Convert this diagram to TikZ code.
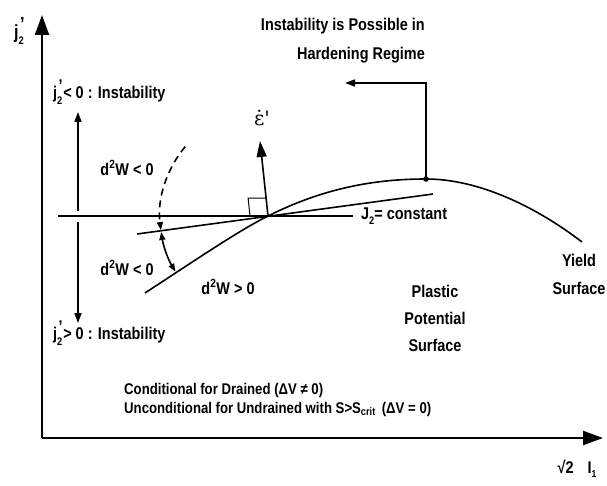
\documentclass[tikz,border=0pt]{standalone}
\usepackage{fontspec}
\setmainfont{Liberation Sans}[FakeStretch=0.85,BoldFont={Liberation Sans Bold}]
\newfontfamily\epsfont{DejaVu Serif}
\usetikzlibrary{arrows.meta}
\newcommand{\jtw}{j\makebox[0pt][l]{\raisebox{0.85ex}{\kern0.08em'}}\raisebox{-0.6ex}{\fontsize{11}{11}\selectfont 2}}
\begin{document}
\begin{tikzpicture}[x=1pt,y=-1pt,
  lbl/.style={inner sep=0pt, font=\fontsize{17}{20}\selectfont\bfseries},
  axis/.style={line width=2.2pt},
  ln/.style={line width=1.6pt},
  bigtip/.style={-{Triangle[length=20pt,width=14pt]}},
  smalltip/.style={-{Triangle[length=10pt,width=7pt]}},
]
\useasboundingbox (0,0) rectangle (607,486);
% coordinates
\coordinate (O) at (42,438);
\coordinate (Ytop) at (42,15);
\coordinate (Xend) at (603,438);
\coordinate (P) at (268,216);
\coordinate (Hl) at (58,216);
\coordinate (Hr) at (353,216);
\coordinate (Tl) at (137,234);
\coordinate (Tr) at (433,194);
\coordinate (Ys) at (145,293);
\coordinate (Peak) at (426,179);
\coordinate (Ye) at (582,242);
\coordinate (Corner) at (426,83);
\coordinate (Aend) at (345,83);
\coordinate (Etip) at (260,141);
\coordinate (Vu0) at (78,211);
\coordinate (Vu1) at (78,112);
\coordinate (Vd0) at (78,222);
\coordinate (Vd1) at (78,323);
% axes
\draw[axis,bigtip] (O) -- (Ytop);
\draw[axis,bigtip] (O) -- (Xend);
% lines
\draw[ln] (Hl) -- (Hr);
\draw[ln] (Tl) -- (Tr);
\draw[ln] (Ys) .. controls (200,257) and (240,230) .. (P)
  .. controls (320,190) and (370,179) .. (Peak)
  .. controls (478,179) and (535,206) .. (Ye);
\fill (Peak) circle (2.8pt);
\draw[ln,smalltip] (Peak) -- (Corner) -- (Aend);
\draw[ln,-{Triangle[length=16pt,width=10pt]}] (P) -- (Etip);
\draw[line width=1pt] ([shift={(P)}]-18,0) -- ([shift={(P)}]-19.9,-17.9) -- ([shift={(P)}]-1.9,-17.9);
\draw[ln,smalltip] (Vu0) -- (Vu1);
\draw[ln,smalltip] (Vd0) -- (Vd1);
% arcs
\draw[ln,dashed,dash pattern=on 7pt off 5pt,-{Triangle[length=8pt,width=6pt]}] ([shift={(P)}]220:108) arc[start angle=220,end angle=172.5,radius=108];
\draw[ln,{Triangle[length=8pt,width=6pt]}-{Triangle[length=8pt,width=6pt]}] ([shift={(P)}]171.5:108) arc[start angle=171.5,end angle=149,radius=108];
% labels
\node[lbl,font=\fontsize{19}{20}\selectfont\bfseries] (yl) at (19,31) {\jtw};
\node[lbl] (xl) at (577,469) {√2\hspace{14pt}I\raisebox{-0.5ex}{\fontsize{10}{10}\selectfont 1}};
\node[lbl,anchor=east,align=right,font=\fontsize{17}{29}\selectfont\bfseries] (top) at (425,41) {Instability is Possible in\\Hardening Regime};
\node[lbl,anchor=west] (jneg) at (53,92) {\jtw\kern0.05em< 0 : Instability};
\node[lbl,anchor=west] (jpos) at (53,333) {\jtw\kern0.05em> 0 : Instability};
\node[lbl] (w1) at (127,168) {d\textsuperscript{2}W < 0};
\node[lbl] (w2) at (127,268) {d\textsuperscript{2}W < 0};
\node[lbl] (w3) at (228,287) {d\textsuperscript{2}W > 0};
\node[lbl,anchor=west] (jc) at (361,216) {J\raisebox{-0.6ex}{\fontsize{11}{11}\selectfont 2}= constant};
\node[lbl,align=center,font=\fontsize{17}{27}\selectfont\bfseries] (pp) at (435,318) {Plastic\\Potential\\Surface};
\node[lbl,align=center,font=\fontsize{17}{28}\selectfont\bfseries] (ys) at (579,274) {Yield\\Surface};
\node[lbl,anchor=west,font=\fontsize{15.5}{18}\selectfont\bfseries] (c1) at (124,390) {Conditional for Drained (ΔV ≠ 0)};
\node[lbl,anchor=west,font=\fontsize{15.5}{18}\selectfont\bfseries] (c2) at (124,409) {Unconditional for Undrained with S>S\textsubscript{crit}\hspace{6pt}(ΔV = 0)};
\node[inner sep=0pt,font=\fontsize{20}{20}\selectfont\epsfont] (eps) at (262,118) {ε̇'};
\end{tikzpicture}
\end{document}
